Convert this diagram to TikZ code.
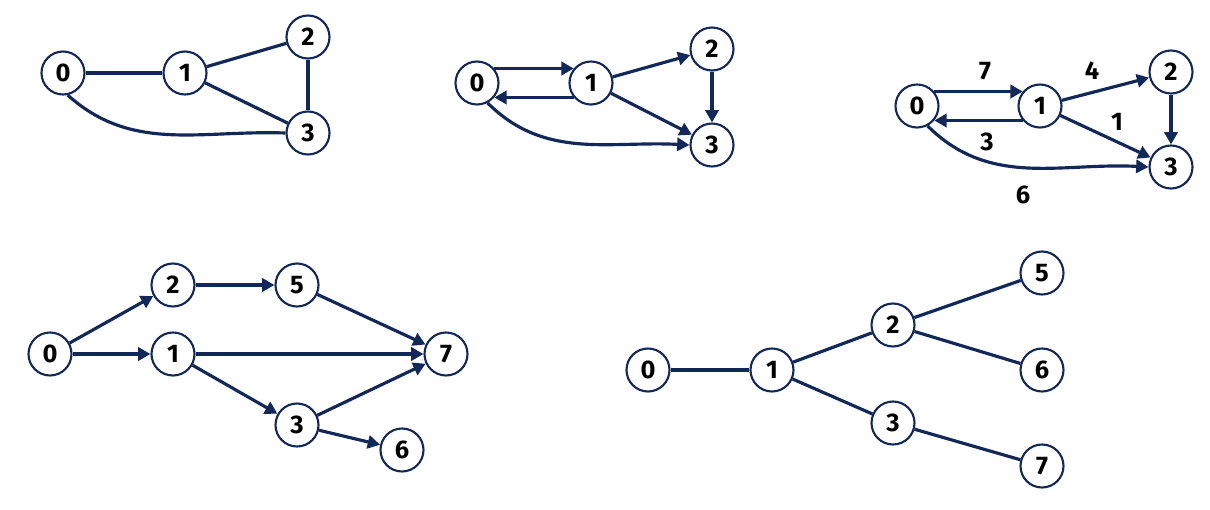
\documentclass[tikz,border=0pt]{standalone}
\usepackage{fontspec}
\setmainfont{Fira Sans}
\usetikzlibrary{arrows.meta}
\definecolor{navy}{RGB}{18,40,88}
\begin{document}
\begin{tikzpicture}[x=0.02cm,y=-0.02cm,
  vtx/.style={circle,draw=navy,line width=1.2pt,fill=white,minimum size=43*0.02cm,inner sep=0pt,font=\fontsize{14.5}{15}\selectfont\bfseries},
  edge/.style={draw=navy,line width=1.8pt},
  arc/.style={edge,-{Triangle[length=7pt,width=7.5pt]}},
  wlab/.style={font=\fontsize{14.5}{15}\selectfont\bfseries,inner sep=0pt}]
\useasboundingbox (0,0) rectangle (1210,510);
% graph 1
\node[vtx] (a0) at (63,73) {0};
\node[vtx] (a1) at (185,73) {1};
\node[vtx] (a2) at (308,37) {2};
\node[vtx] (a3) at (308,133) {3};
\draw[edge] (a0) -- (a1);
\draw[edge] (a1) -- (a2);
\draw[edge] (a1) -- (a3);
\draw[edge] (a2) -- (a3);
\draw[edge] (a0.-78) to[out=-42,in=178] (a3.west);
% graph 2
\node[vtx] (b0) at (477,83) {0};
\node[vtx] (b1) at (591,83) {1};
\node[vtx] (b2) at (712,49) {2};
\node[vtx] (b3) at (712,145) {3};
\draw[arc] (b0.40) -- (b1.140);
\draw[arc] (b1.-140) -- (b0.-40);
\draw[arc] (b1) -- (b2);
\draw[arc] (b1) -- (b3);
\draw[arc] (b2) -- (b3);
\draw[arc] (b0.-62) to[out=-45,in=177] (b3.west);
% graph 3
\node[vtx] (c0) at (917,106) {0};
\node[vtx] (c1) at (1040,106) {1};
\node[vtx] (c2) at (1171,72) {2};
\node[vtx] (c3) at (1171,167) {3};
\draw[arc] (c0.40) -- (c1.140);
\draw[arc] (c1.-140) -- (c0.-40);
\draw[arc] (c1) -- (c2);
\draw[arc] (c1) -- (c3);
\draw[arc] (c2) -- (c3);
\draw[arc] (c0.-62) to[out=-45,in=177] (c3.west);
\node[wlab] (l7) at (985,71) {7};
\node[wlab] (l4) at (1092,71) {4};
\node[wlab] (l1) at (1117,122) {1};
\node[wlab] (l3) at (987,142) {3};
\node[wlab] (l6) at (1023,195) {6};
% graph 4
\node[vtx] (d0) at (50,354) {0};
\node[vtx] (d1) at (173,354) {1};
\node[vtx] (d2) at (173,285) {2};
\node[vtx] (d5) at (297,285) {5};
\node[vtx] (d3) at (297,425) {3};
\node[vtx] (d6) at (402,450) {6};
\node[vtx] (d7) at (446,354) {7};
\draw[arc] (d0) -- (d2);
\draw[arc] (d0) -- (d1);
\draw[arc] (d2) -- (d5);
\draw[arc] (d5) -- (d7);
\draw[arc] (d1) -- (d7);
\draw[arc] (d1) -- (d3);
\draw[arc] (d3) -- (d7);
\draw[arc] (d3) -- (d6);
% graph 5
\node[vtx] (e0) at (648,370) {0};
\node[vtx] (e1) at (772,370) {1};
\node[vtx] (e2) at (893,325) {2};
\node[vtx] (e3) at (893,423) {3};
\node[vtx] (e5) at (1042,273) {5};
\node[vtx] (e6) at (1042,370) {6};
\node[vtx] (e7) at (1042,466) {7};
\draw[edge] (e0) -- (e1);
\draw[edge] (e1) -- (e2);
\draw[edge] (e1) -- (e3);
\draw[edge] (e2) -- (e5);
\draw[edge] (e2) -- (e6);
\draw[edge] (e3) -- (e7);
\end{tikzpicture}
\end{document}
